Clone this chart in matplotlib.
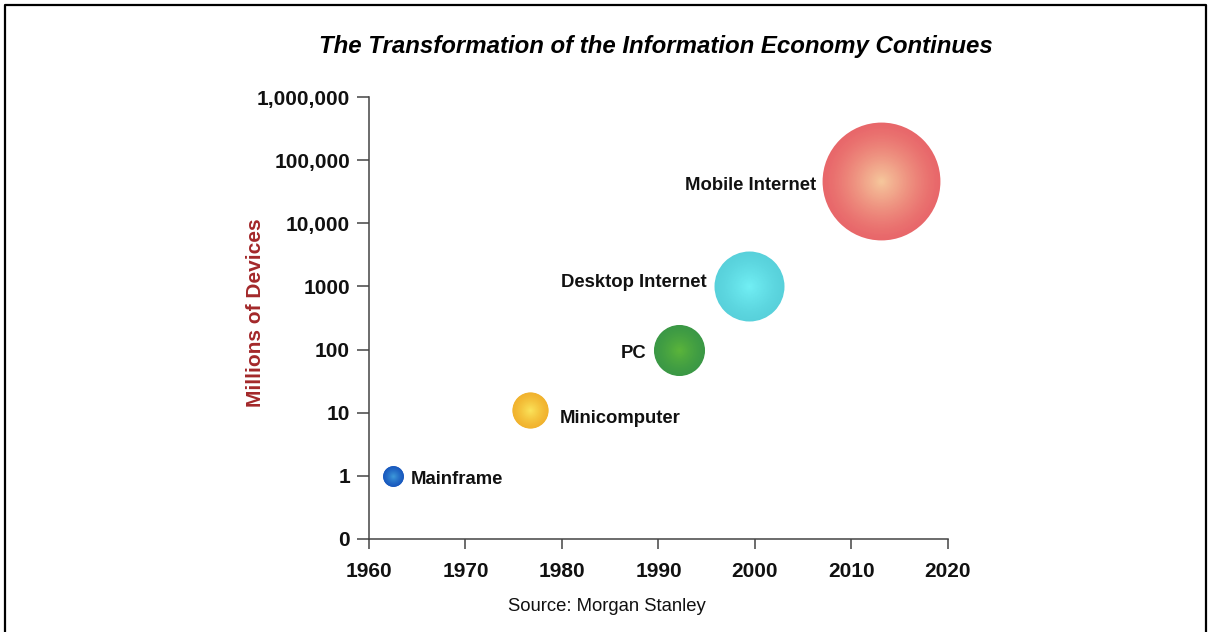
import numpy as np
import matplotlib
matplotlib.use('Agg')
import matplotlib.pyplot as plt
from matplotlib.colors import to_rgb
from matplotlib.lines import Line2D

plt.rcParams['font.family'] = ['Liberation Sans', 'DejaVu Sans']

# data
names = ['Mainframe', 'Minicomputer', 'PC', 'Desktop Internet', 'Mobile Internet']
years = [1962.5, 1976.7, 1992.1, 1999.4, 2013.1]
devices = [1, 11, 100, 1000, 46000]  # millions of devices

yticks = [0, 1, 10, 100, 1000, 10000, 100000, 1000000]
ytick_labels = ['0', '1', '10', '100', '1000', '10,000', '100,000', '1,000,000']
xticks = [1960, 1970, 1980, 1990, 2000, 2010, 2020]

# style: bubble area (pt^2), edge colour, centre colour, label offset (pt)
sizes = [225, 680, 1350, 2540, 7200]
edge_cols = ['#1a5abf', '#f1b32e', '#3b9845', '#58d1db', '#e8676a']
centre_cols = ['#3f9bdb', '#fbe55c', '#5cb63a', '#72f0f5', '#f6c99d']
offsets = [(13, -2.5), (21, -6), (-23, -3), (-31, 2.5), (-47, -3)]


def fwd(v):
    v = np.asarray(v, dtype=float)
    return np.where(v < 1, v, np.log10(np.maximum(v, 1)) + 1)


def inv(p):
    p = np.asarray(p, dtype=float)
    return np.where(p < 1, p, 10 ** (p - 1))


fig = plt.figure(figsize=(12.09, 6.32), dpi=100)
ax = fig.add_axes([0.3052, 0.1472, 0.4789, 0.6993])
ax.set_yscale('function', functions=(fwd, inv))

# bubbles with a radial gradient: stacked circles shrinking towards the centre
n = 40
for x, y, s, ec, cc in zip(years, devices, sizes, edge_cols, centre_cols):
    e = np.array(to_rgb(ec))
    c = np.array(to_rgb(cc))
    for k in range(n):
        f = 1 - k / n
        t = (k / n) ** 1.3
        ax.scatter([x], [y], s=s * f ** 2, color=tuple(e + (c - e) * t),
                   linewidths=0, zorder=3)

for x, y, name, off in zip(years, devices, names, offsets):
    ax.annotate(name, (x, y), xytext=off, textcoords='offset points',
                ha='left' if off[0] > 0 else 'right', va='center',
                fontsize=13.3, fontweight='bold', color='#111111')

ax.set_xlim(1960, 2020)
ax.set_ylim(0, 1000000)
ax.set_xticks(xticks)
ax.set_yticks(yticks)
ax.set_yticklabels(ytick_labels)
ax.minorticks_off()
for side in ['top', 'right']:
    ax.spines[side].set_visible(False)
for side in ['left', 'bottom']:
    ax.spines[side].set_color('#444444')
    ax.spines[side].set_linewidth(1.1)
ax.tick_params(axis='both', colors='#444444', width=1.1, labelcolor='#111111',
               labelsize=15)
ax.tick_params(axis='y', length=8.6, pad=5)
ax.tick_params(axis='x', length=7.5, pad=9)
for lab in ax.get_xticklabels() + ax.get_yticklabels():
    lab.set_fontweight('bold')

fig.text(0.5426, 0.927, 'The Transformation of the Information Economy Continues',
         ha='center', va='center', fontsize=17.3, fontweight='bold', style='italic')
fig.text(0.2115, 0.505, 'Millions of Devices', rotation=90, ha='center', va='center',
         fontsize=15, fontweight='bold', color='#a3282a')
fig.text(0.5017, 0.0396, 'Source: Morgan Stanley', ha='center', va='center',
         fontsize=13.3, color='#111111')

# frame round the picture (no bottom edge)
W, H = 1209, 632
xl, xr, yt = 5 / W, 1206 / W, 1 - 5 / H
fig.add_artist(Line2D([xl, xl, xr, xr], [0, yt, yt, 0], color='black',
                      linewidth=1.6, transform=fig.transFigure))

fig.savefig('out.png', dpi=100)
